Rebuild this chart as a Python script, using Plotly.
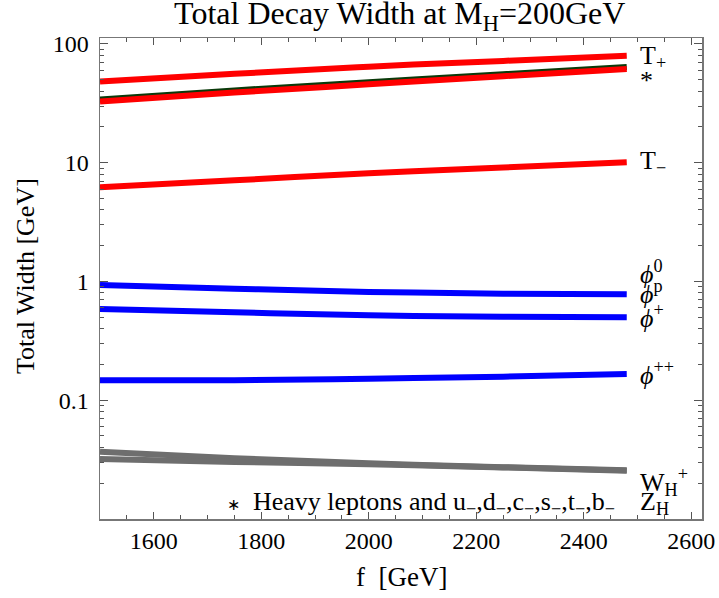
import math
import plotly.graph_objects as go

f_vals = [1500, 1750, 2000, 2250, 2480]

t_plus = [48.2, 56.0, 64.4, 72.0, 79.6]
star_green = [34.0, 40.6, 47.6, 55.6, 63.8]
star_red = [32.7, 39.0, 45.7, 53.5, 61.5]
t_minus = [6.21, 7.1, 8.15, 9.1, 10.1]
phi0 = [0.935, 0.87, 0.817, 0.79, 0.78]
phip = [0.586, 0.55, 0.519, 0.505, 0.50]
phipp = [0.147, 0.147, 0.152, 0.158, 0.166]
wh_plus = [0.0369, 0.0325, 0.0295, 0.0273, 0.0257]
zh = [0.0320, 0.0302, 0.0289, 0.0272, 0.0255]

labels = ["T<sub>+</sub>", "*", "T<sub>−</sub>", "<i>ϕ</i><sup>0</sup>", "<i>ϕ</i><sup>p</sup>",
          "<i>ϕ</i><sup>+</sup>", "<i>ϕ</i><sup>++</sup>", "W<sub>H</sub><sup>+</sup>", "Z<sub>H</sub>"]
label_vals = [77.8, 49.0, 10.14, 1.20, 0.80, 0.512, 0.169, 0.0205, 0.0136]

FONT = "Liberation Serif"
RED = "#ff0000"
BLUE = "#0000ff"
GRAY = "#6e6e6e"
DARKGREEN = "#0a3a0a"

fig = go.Figure()
series = [
    (t_plus, RED),
    (star_green, DARKGREEN),
    (star_red, RED),
    (t_minus, RED),
    (phi0, BLUE),
    (phip, BLUE),
    (phipp, BLUE),
    (wh_plus, GRAY),
    (zh, GRAY),
]
for vals, col in series:
    fig.add_trace(go.Scatter(x=f_vals, y=vals, mode="lines",
                             line=dict(color=col, width=6, shape="spline"),
                             showlegend=False, hoverinfo="skip"))

for txt, v in zip(labels, label_vals):
    fig.add_annotation(x=2500, y=math.log10(v), xref="x", yref="y", text=txt,
                       showarrow=False, xanchor="left", yanchor="middle",
                       font=dict(family=FONT, size=26, color="black"))

fig.add_annotation(x=2097, y=math.log10(0.0137), xref="x", yref="y",
                   text="<span style='font-size:16px'>∗</span>  Heavy leptons and u<sub>−</sub>,d<sub>−</sub>,c<sub>−</sub>,s<sub>−</sub>,t<sub>−</sub>,b<sub>−</sub>",
                   showarrow=False, xanchor="center", yanchor="middle",
                   font=dict(family=FONT, size=26, color="black"))

# axis titles
fig.add_annotation(x=-75 / 602, y=0.505, xref="paper", yref="paper", text="Total Width [GeV]",
                   textangle=-90, showarrow=False, xanchor="center", yanchor="middle",
                   font=dict(family=FONT, size=26, color="black"))
fig.add_annotation(x=0.5, y=-58 / 481, xref="paper", yref="paper", text="f  [GeV]",
                   showarrow=False, xanchor="center", yanchor="middle",
                   font=dict(family=FONT, size=27, color="black"))

minor_y = []
for d in [0.01, 0.1, 1, 10, 100]:
    for k in range(2, 10):
        minor_y.append(d * k)

axis_common = dict(showline=True, linecolor="#777777", linewidth=1.5, mirror="allticks",
                   ticks="inside", tickcolor="#555555", showgrid=False, zeroline=False,
                   automargin=False,
                   tickfont=dict(family=FONT, size=24, color="black"))

fig.update_layout(
    width=719, height=598,
    margin=dict(l=100, r=17, t=38, b=79),
    font=dict(family=FONT, color="black"),
    paper_bgcolor="white", plot_bgcolor="white",
    title=dict(text="Total Decay Width at M<sub>H</sub>=200GeV", x=0.556, xanchor="center",
               y=1 - 13 / 598, yref="container", yanchor="middle",
               font=dict(family=FONT, size=32, color="black")),
    xaxis=dict(range=[1500, 2620], tickvals=[1600, 1800, 2000, 2200, 2400, 2600],
               ticklen=7, tickwidth=1,
               minor=dict(dtick=50, tick0=1500, ticks="inside", ticklen=4, tickcolor="#555555"),
               **axis_common),
    yaxis=dict(type="log", range=[-2, 2.05], tickvals=[0.1, 1, 10, 100],
               ticktext=["0.1", "1", "10", "100"], ticklen=8, tickwidth=1, ticklabelstandoff=5,
               minor=dict(tickmode="array", tickvals=minor_y, ticks="inside", ticklen=4, tickcolor="#555555"),
               **axis_common),
)

fig.write_html("out.html", config={"displayModeBar": False, "staticPlot": True},
               post_script="document.body.style.margin='0';document.body.style.overflow='hidden';")
